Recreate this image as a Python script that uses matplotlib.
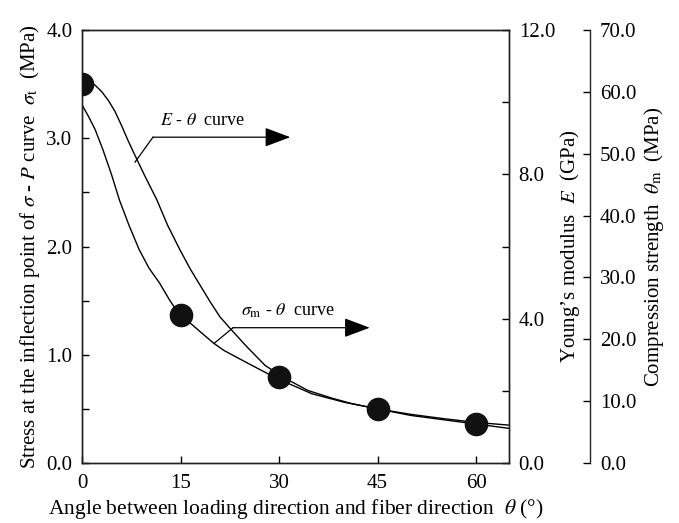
import matplotlib
matplotlib.use('Agg')
import matplotlib.pyplot as plt
from matplotlib.ticker import MultipleLocator, FormatStrFormatter

plt.rcParams['font.family'] = ['Liberation Serif', 'DejaVu Serif']
plt.rcParams['mathtext.fontset'] = 'stix'

# measured stress at the inflection point (MPa)
theta_pts = [0, 15, 30, 45, 60]
sigma_t = [3.50, 1.37, 0.79, 0.50, 0.36]

# Young's modulus curve (GPa)
theta_E = [0, 1, 2, 3, 4, 5, 6, 7, 8, 9.5, 11.4, 13, 14.9, 16.5, 18, 19.5, 21, 22.6, 25, 27.9,
           31, 34.4, 38, 41, 45, 50, 55, 60, 65]
E_curve = [10.56, 10.56, 10.47, 10.29, 10.05, 9.75, 9.36, 8.94, 8.55, 7.98, 7.29, 6.60, 5.91,
           5.37, 4.92, 4.47, 4.05, 3.72, 3.24, 2.70, 2.34, 2.01, 1.80, 1.65, 1.50, 1.35, 1.23,
           1.125, 1.05]

# compression strength curve (MPa)
theta_m = [0, 1, 2, 3.2, 4.5, 5.7, 7.2, 8.7, 10.2, 11.8, 13.3, 14.8, 16.5, 17.8, 20, 21.6, 25.3,
           29.6, 35, 40, 45, 50, 55, 60, 65]
sigma_m = [57.9, 56.0, 53.9, 50.6, 46.6, 42.5, 38.3, 34.5, 31.5, 29.1, 26.4, 24.0, 22.6, 21.4,
           19.4, 18.2, 16.1, 13.7, 11.2, 9.8, 8.75, 7.7, 7.0, 6.3, 5.6]

fig = plt.figure(figsize=(6.79, 5.23), dpi=100)
ax = fig.add_axes([0.1208, 0.1147, 0.6288, 0.8279])
ax2 = ax.twinx()
ax3 = ax.twinx()
ax3.spines['right'].set_position(('axes', 1.19))
for s in ['top', 'bottom', 'left']:
    ax3.spines[s].set_visible(False)

ax2.plot(theta_E, E_curve, color='black', lw=1.0)
ax3.plot(theta_m, sigma_m, color='black', lw=1.0)
ax.plot(theta_pts, sigma_t, 'o', color='#111111', ms=16, zorder=5)
ax.set_zorder(ax3.get_zorder() + 1)
ax.patch.set_visible(False)

ax.set_xlim(0, 65)
ax.set_ylim(0, 4)
ax2.set_ylim(0, 12)
ax3.set_ylim(0, 70)

ax.set_xticks([0, 15, 30, 45, 60])
ax.yaxis.set_major_locator(MultipleLocator(1))
ax.yaxis.set_minor_locator(MultipleLocator(0.5))
ax.yaxis.set_major_formatter(FormatStrFormatter('%.1f'))
ax2.yaxis.set_major_locator(MultipleLocator(4))
ax2.yaxis.set_minor_locator(MultipleLocator(2))
ax2.yaxis.set_major_formatter(FormatStrFormatter('%.1f'))
ax3.yaxis.set_major_locator(MultipleLocator(10))
ax3.yaxis.set_major_formatter(FormatStrFormatter('%.1f'))

for a in (ax, ax2, ax3):
    a.tick_params(which='both', direction='in', length=5, width=1, labelsize=15, pad=7)
    for s in a.spines.values():
        s.set_linewidth(1.0)
        s.set_color('#222222')
ax.tick_params(axis='x', pad=8)

ax.set_xlabel(r'Angle between loading direction and fiber direction  $\theta$ (°)', fontsize=15.5, labelpad=3)
ax.set_ylabel(r'Stress at the inflection point of $\sigma$ - $P$ curve  $\sigma_\mathrm{t}$  (MPa)',
              fontsize=15, labelpad=3)
ax2.set_ylabel(r'Young’s modulus  $E$  (GPa)', fontsize=15, labelpad=2)
ax3.set_ylabel(r'Compression strength  $\theta_\mathrm{m}$  (MPa)', fontsize=15, labelpad=4)

# leader lines and arrows
ax.plot([8.07, 10.8], [2.78, 3.01], color='black', lw=0.9)
ax.annotate('', xy=(31.7, 3.01), xytext=(10.8, 3.01),
            arrowprops=dict(arrowstyle='-|>,head_length=1.6,head_width=0.6', color='black', lw=0.9,
                            shrinkA=0, shrinkB=0))
ax.text(18.4, 3.09, r'$E$ - $\theta$  curve', fontsize=13, ha='center', va='bottom')

ax.plot([20.2, 23.0], [1.11, 1.25], color='black', lw=0.9)
ax.annotate('', xy=(43.8, 1.25), xytext=(23.0, 1.25),
            arrowprops=dict(arrowstyle='-|>,head_length=1.6,head_width=0.6', color='black', lw=0.9,
                            shrinkA=0, shrinkB=0))
ax.text(31.4, 1.32, r'$\sigma_\mathrm{m}$ - $\theta$  curve', fontsize=13, ha='center', va='bottom')

fig.savefig('out.png', dpi=100)
